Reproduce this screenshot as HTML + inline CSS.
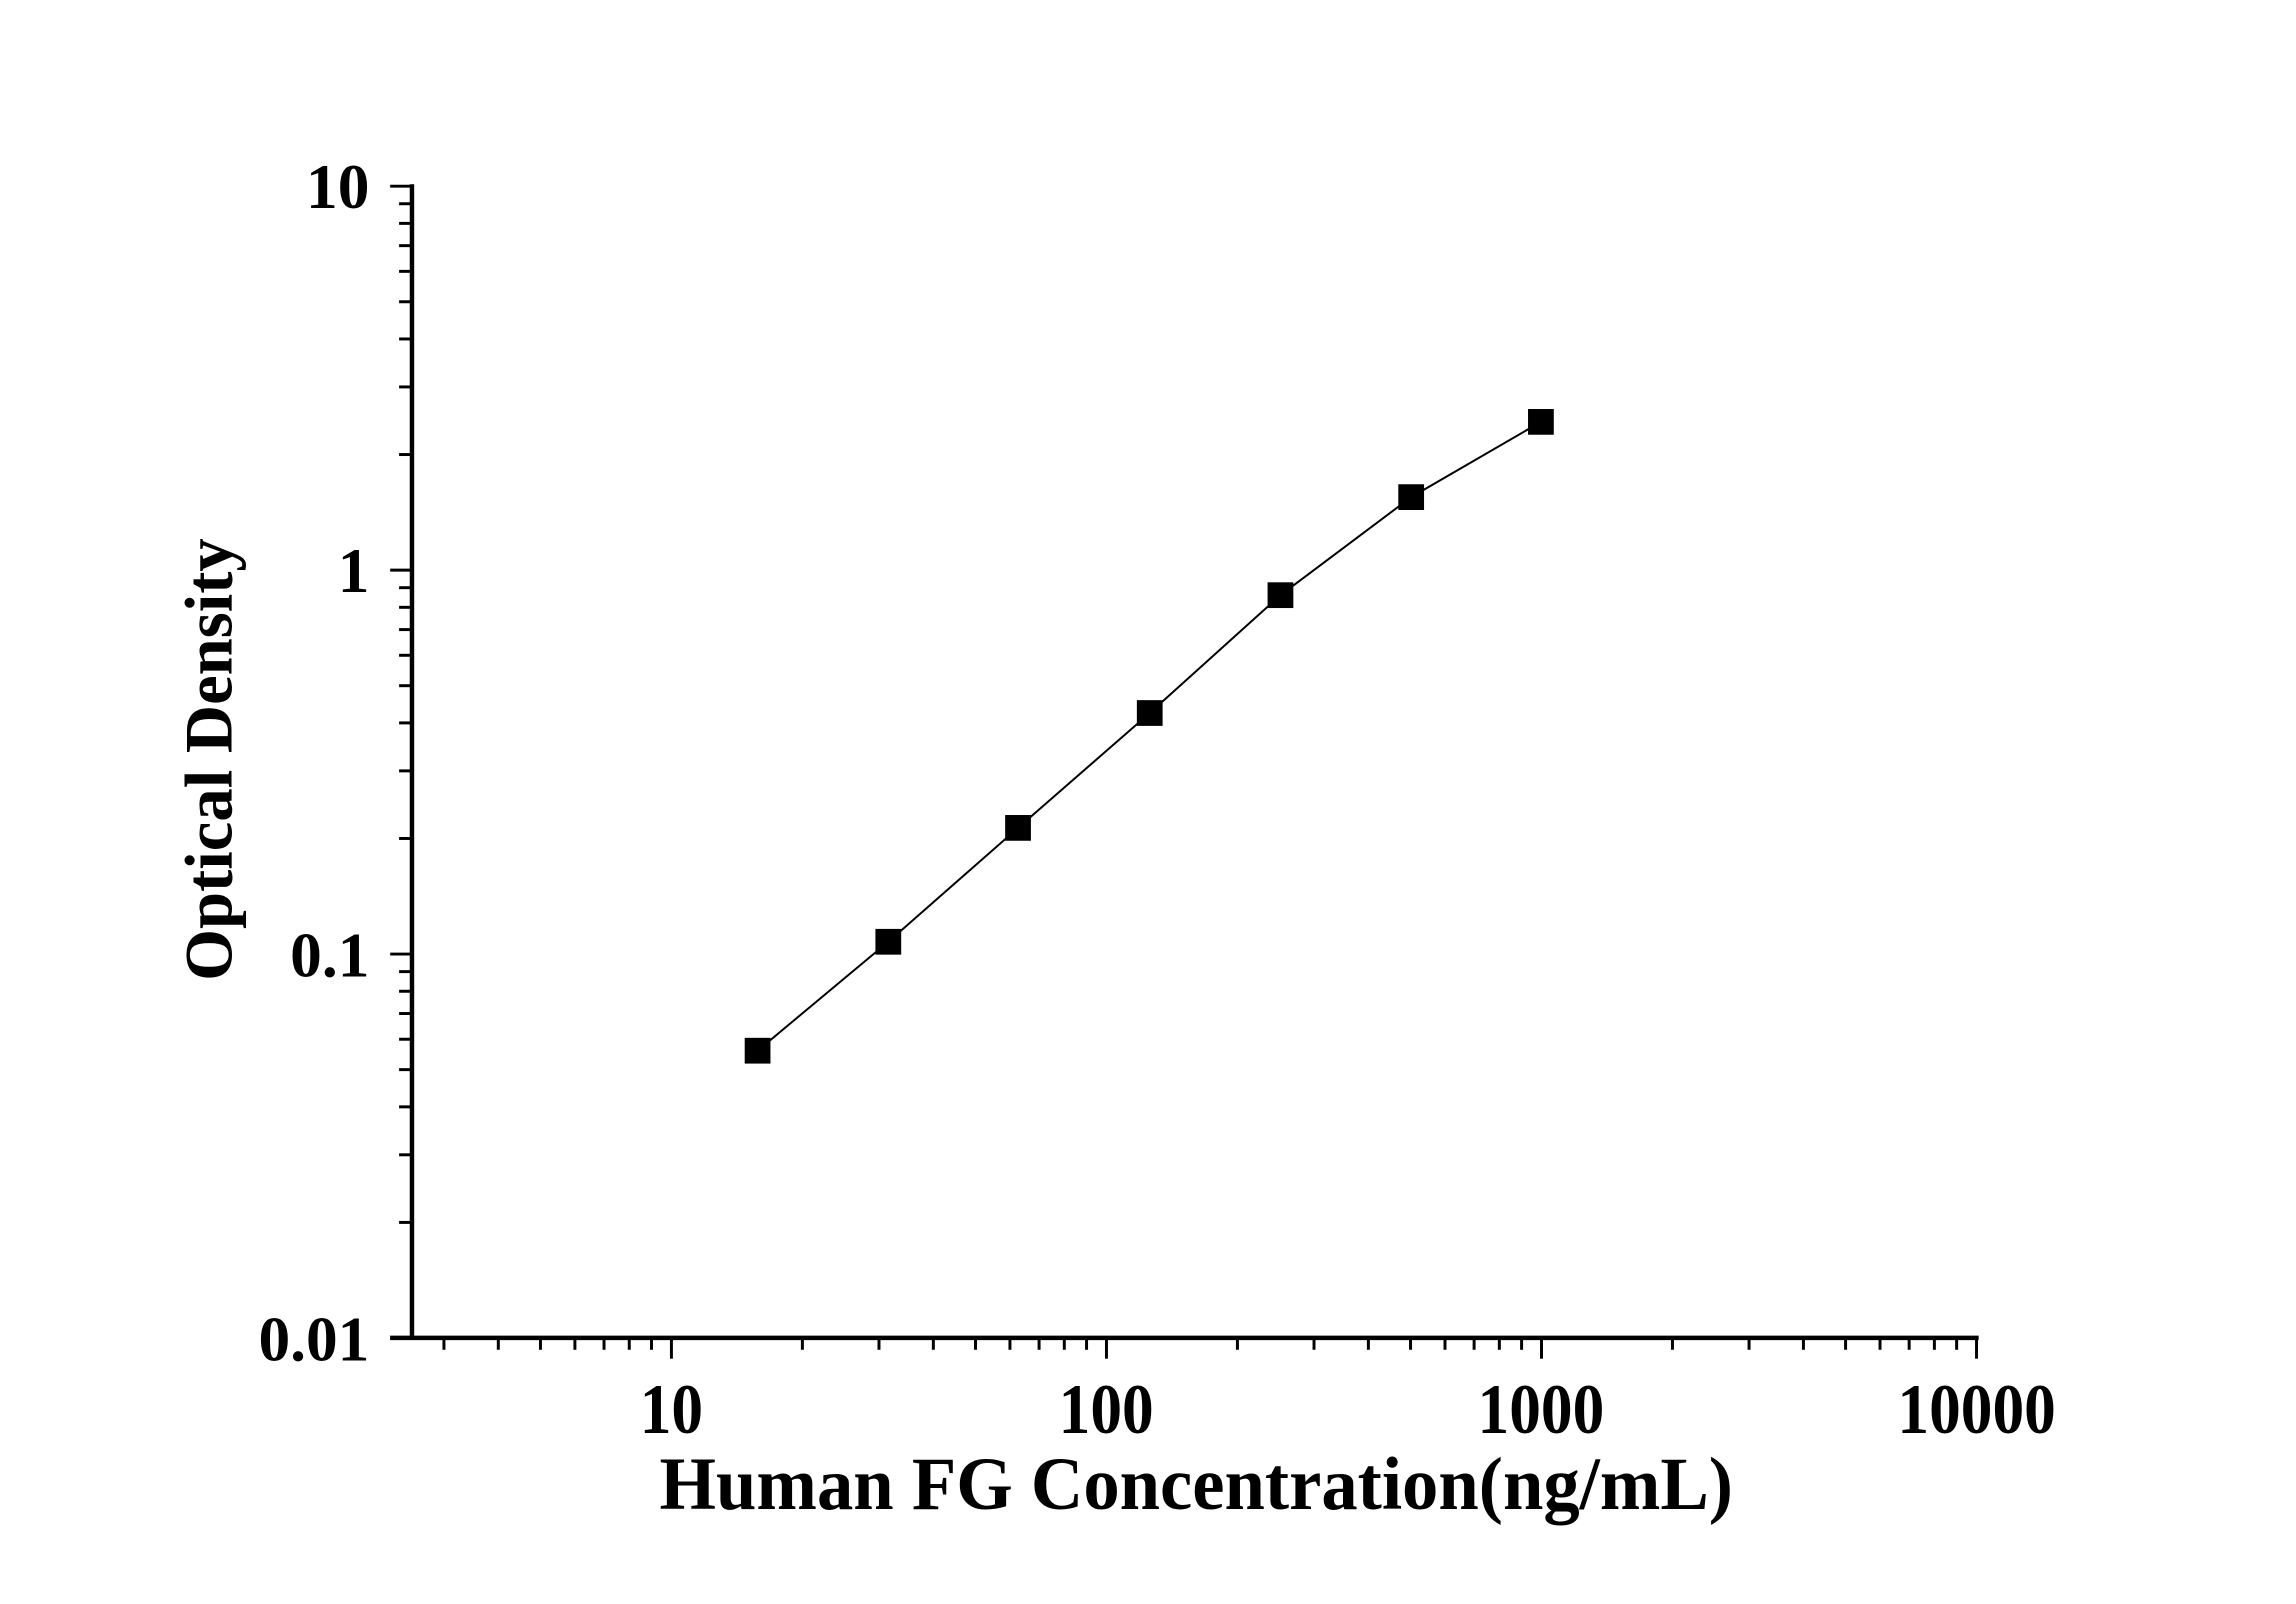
<!DOCTYPE html>
<html><head><meta charset="utf-8"><style>html,body{margin:0;padding:0;background:#fff}svg{display:block}</style></head>
<body>
<svg id="s" xmlns="http://www.w3.org/2000/svg" width="2296" height="1604" viewBox="0 0 2296 1604">
<rect width="2296" height="1604" fill="#fff"/>
<g transform="scale(0.9903)">
<g id="ticks" stroke="#000" stroke-width="3"></g>
<line x1="416" y1="186" x2="416" y2="1353" stroke="#000" stroke-width="4.5"/>
<line x1="394" y1="1351" x2="1998" y2="1351" stroke="#000" stroke-width="4.5"/>
<polyline points="765,1061 897,951 1028,836 1161,720 1293,601 1425,502 1556,426" fill="none" stroke="#000" stroke-width="2"/>
<g fill="#000">
<rect x="752" y="1048" width="26" height="26"/>
<rect x="884" y="938" width="26" height="26"/>
<rect x="1015" y="823" width="26" height="26"/>
<rect x="1148" y="707" width="26" height="26"/>
<rect x="1280" y="588" width="26" height="26"/>
<rect x="1412" y="489" width="26" height="26"/>
<rect x="1543" y="413" width="26" height="26"/>
</g>
<g font-family="Liberation Serif, serif" font-weight="bold" font-size="64" fill="#000">
<text x="373" y="210" text-anchor="end">10</text>
<text x="373" y="598" text-anchor="end">1</text>
<text x="373" y="986" text-anchor="end">0.1</text>
<text x="373" y="1374" text-anchor="end">0.01</text>
<g transform="translate(0,1447) scale(1,1.12)">
<text x="678" y="0" text-anchor="middle">10</text>
<text x="1117" y="0" text-anchor="middle">100</text>
<text x="1556" y="0" text-anchor="middle">1000</text>
<text x="1996" y="0" text-anchor="middle">10000</text>
</g>
<text x="666" y="1524" font-size="76" textLength="1084" lengthAdjust="spacingAndGlyphs">Human FG Concentration(ng/mL)</text>
<text transform="translate(234,767) rotate(-90)" text-anchor="middle" font-size="68" textLength="447" lengthAdjust="spacingAndGlyphs">Optical Density</text>
</g>
</g>
</svg>
<script>
var g=document.getElementById('ticks'),ns='http://www.w3.org/2000/svg';
function L(x1,y1,x2,y2){var l=document.createElementNS(ns,'line');l.setAttribute('x1',x1);l.setAttribute('y1',y1);l.setAttribute('x2',x2);l.setAttribute('y2',y2);g.appendChild(l);}
function X(v){return 678+439.3*(Math.log10(v)-1);}
function Y(v){return 188+387.7*(1-Math.log10(v));}
for(var e=0;e<4;e++){for(var m=1;m<10;m++){var v=m*Math.pow(10,e);if(v<2.6)continue;var x=X(v);L(x,1351,x,m==1?1372:1363);}}
L(X(10000),1351,X(10000),1372);
for(var e=-2;e<1;e++){for(var m=1;m<10;m++){var v=m*Math.pow(10,e);var y=Y(v);L(416,y,m==1?394:403,y);}}
L(394,Y(10),416,Y(10));
</script>
</body></html>
